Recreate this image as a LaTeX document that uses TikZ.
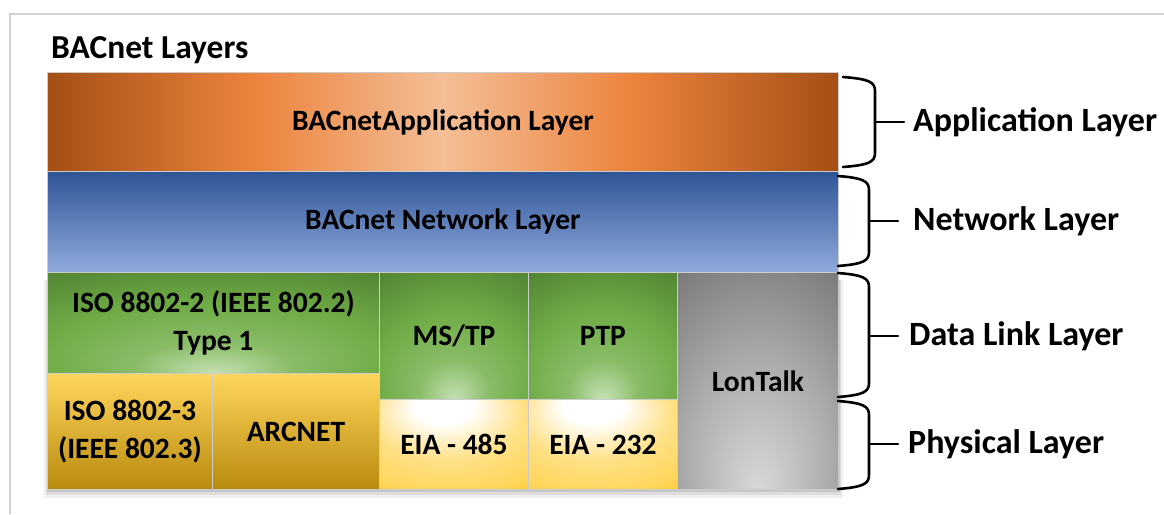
\documentclass[tikz,border=0pt]{standalone}
\usepackage{fontspec}
\setmainfont{Carlito}
\usetikzlibrary{calc}

\definecolor{appdark}{HTML}{A44F16}
\definecolor{apporange}{HTML}{EC833D}
\definecolor{applight}{HTML}{F4BE96}
\definecolor{nettop}{HTML}{2F5597}
\definecolor{netmid}{HTML}{4472C4}
\definecolor{netbot}{HTML}{90AADC}
\definecolor{grnlight}{HTML}{C6E0B4}
\definecolor{grnmid}{HTML}{6FAC46}
\definecolor{grndark}{HTML}{45732B}
\definecolor{goldtop}{HTML}{FFD65C}
\definecolor{goldmid}{HTML}{FFC000}
\definecolor{goldbot}{HTML}{B88A0E}
\definecolor{lonlight}{HTML}{D8D8D8}
\definecolor{londark}{HTML}{6C6C6C}

\pgfdeclarehorizontalshading{appshade}{100bp}{color(0bp)=(appdark); color(25bp)=(appdark);
  color(38bp)=(apporange); color(50bp)=(applight); color(62bp)=(apporange);
  color(75bp)=(appdark); color(100bp)=(appdark)}
\pgfdeclareradialshading{grnshade}{\pgfpoint{0bp}{-25bp}}{color(0bp)=(grnlight);
  color(12bp)=(grnmid!70!grnlight); color(26bp)=(grnmid); color(42bp)=(grndark!60!grnmid);
  color(56bp)=(grndark); color(80bp)=(grndark)}
\pgfdeclareradialshading{eiashade}{\pgfpoint{-4bp}{25bp}}{color(0bp)=(white);
  color(10bp)=(white); color(26bp)=(goldtop!75!white); color(40bp)=(goldtop);
  color(52bp)=(goldmid); color(80bp)=(goldmid)}
\pgfdeclareradialshading{lonshade}{\pgfpoint{0bp}{-25bp}}{color(0bp)=(lonlight);
  color(22bp)=(lonlight!60!londark); color(50bp)=(londark); color(80bp)=(londark)}

\begin{document}
\begin{tikzpicture}[x=1pt, y=-1pt,
    box/.style={draw=black!20, line width=0.9pt, inner sep=0pt, anchor=north west,
      align=center, font=\bfseries\fontsize{29.5}{38}\selectfont},
    brace/.style={line width=2.6pt, line cap=round},
    side/.style={anchor=west, inner sep=0pt, font=\bfseries\fontsize{34}{38}\selectfont}]
    \useasboundingbox (0,0) rectangle (1164,514);

    % Frame
    \draw[black!18, line width=1.2pt] (10,514) -- (10,14) -- (1164,14);
    \node[anchor=base west, inner sep=0pt, font=\bfseries\fontsize{33.5}{38}\selectfont]
      (title) at (51,58) {BACnet Layers};

    % Soft shadow
    \fill[black, opacity=0.06] (44,280) rectangle (843,498);
    \fill[black, opacity=0.08] (46,280) rectangle (841,495);
    \fill[black, opacity=0.10] (47,280) rectangle (840,492);

    % Upper layers
    \node[box, shading=appshade, minimum width=791, minimum height=99]
      (app) at (47,72) {BACnetApplication Layer};
    \node[box, top color=nettop, middle color=netmid, bottom color=netbot,
      minimum width=791, minimum height=101] (net) at (47,171) {BACnet Network Layer};

    % Data link and physical blocks
    \node[box, shading=grnshade, minimum width=332, minimum height=101]
      (llc) at (47,272) {ISO 8802-2 (IEEE 802.2)\\Type 1};
    \node[box, top color=goldtop, middle color=goldmid, bottom color=goldbot,
      minimum width=165, minimum height=116] (eth) at (47,373) {ISO 8802-3\\(IEEE 802.3)};
    \node[box, top color=goldtop, middle color=goldmid, bottom color=goldbot,
      minimum width=167, minimum height=116] (arc) at (212,373) {ARCNET};
    \node[box, shading=grnshade, minimum width=149, minimum height=127]
      (mstp) at (379,272) {MS/TP};
    \node[box, shading=grnshade, minimum width=149, minimum height=127]
      (ptp) at (528,272) {PTP};
    \node[box, shading=eiashade, minimum width=149, minimum height=90]
      (eia485) at (379,399) {EIA - 485};
    \node[box, shading=eiashade, minimum width=149, minimum height=90]
      (eia232) at (528,399) {EIA - 232};
    \node[box, shading=lonshade, minimum width=161, minimum height=217]
      (lon) at (677,272) {LonTalk};

    % Braces
    \foreach \nm/\ya/\yb/\ym/\xv/\xe/\dx/\txt in {%
        apl/77/167/122/875/843/38/Application Layer,
        nwk/176/266/221/869/838/44/Network Layer,
        dll/273/397/336/869/838/40/Data Link Layer,
        phy/401/489/444/869/838/39/Physical Layer}{
      \node[side] (lbl-\nm) at (\xv+\dx,\ym) {\txt};
      \draw[brace] (\xe,\ya) .. controls (\xv-6,\ya+2) and (\xv,\ya+5) .. (\xv,\ya+14)
        -- (\xv,\yb-14) .. controls (\xv,\yb-5) and (\xv-6,\yb-2) .. (\xe,\yb);
      \draw[brace] (\xv,\ym) -- ([xshift=-\dx+29]lbl-\nm.west);
    }
\end{tikzpicture}
\end{document}
